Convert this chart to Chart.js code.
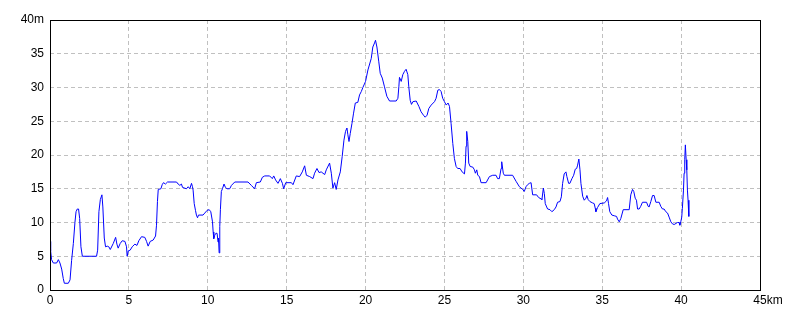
<!DOCTYPE html>
<html>
<head>
<meta charset="utf-8">
<script src="https://cdn.jsdelivr.net/npm/chart.js@4/dist/chart.umd.min.js"></script>
<style>
    body { margin: 0; background: #ffffff; }
    #grafico { display: block; }
</style>
</head>
<body>
<canvas id="grafico" width="800" height="320"></canvas>
<script>
const distKm = [
    0, 0.04, 0.1, 0.21, 0.42, 0.53, 0.63, 0.74, 0.84, 0.91, 1.16, 1.27, 1.37, 1.48, 1.58, 1.65, 1.73, 1.81, 1.88, 1.96,
    2.05, 2.95, 3.02, 3.1, 3.19, 3.29, 3.35, 3.44, 3.52, 3.63, 3.73, 3.82, 4.01, 4.16, 4.24, 4.32, 4.45, 4.58, 4.75, 4.85,
    4.89, 4.96, 5.08, 5.21, 5.38, 5.51, 5.63, 5.8, 6.01, 6.12, 6.22, 6.35, 6.54, 6.69, 6.75, 6.81, 6.86, 7.03, 7.11, 7.19,
    7.32, 7.45, 8.02, 8.12, 8.23, 8.33, 8.4, 8.65, 8.76, 8.86, 8.97, 9.03, 9.07, 9.14, 9.22, 9.28, 9.35, 9.41, 9.7, 9.81,
    9.96, 10.09, 10.19, 10.3, 10.34, 10.38, 10.44, 10.51, 10.59, 10.65, 10.68, 10.72, 10.76, 10.8, 10.86, 10.93, 11.03, 11.12, 11.22, 11.39,
    11.5, 11.71, 12.55, 12.76, 12.97, 13.08, 13.33, 13.46, 13.61, 13.92, 14.09, 14.18, 14.3, 14.45, 14.6, 14.73, 14.81, 14.94, 15.3, 15.4,
    15.61, 15.82, 15.99, 16.14, 16.25, 16.46, 16.67, 16.77, 16.92, 17.05, 17.19, 17.41, 17.51, 17.72, 17.83, 17.93, 18.04, 18.14, 18.25, 18.4,
    18.52, 18.63, 18.73, 18.82, 18.88, 18.95, 19.03, 19.14, 19.24, 19.35, 19.51, 19.62, 19.73, 19.83, 20.0, 20.15, 20.36, 20.46, 20.57, 20.63,
    20.72, 20.84, 20.93, 21.06, 21.2, 21.35, 21.52, 21.94, 22.05, 22.11, 22.15, 22.26, 22.36, 22.47, 22.57, 22.68, 22.74, 22.83, 22.91, 23.0,
    23.21, 23.38, 23.52, 23.67, 23.78, 23.9, 24.01, 24.16, 24.37, 24.47, 24.58, 24.68, 24.79, 24.89, 25.0, 25.11, 25.23, 25.32, 25.42, 25.53,
    25.63, 25.74, 25.84, 25.99, 26.12, 26.27, 26.33, 26.37, 26.41, 26.48, 26.54, 26.63, 26.8, 26.9, 26.96, 27.05, 27.11, 27.22, 27.32, 27.64,
    27.85, 28.06, 28.27, 28.37, 28.48, 28.59, 28.63, 28.73, 28.8, 29.32, 29.54, 29.75, 29.96, 30.06, 30.17, 30.27, 30.38, 30.49, 30.59, 30.84,
    30.97, 31.12, 31.18, 31.27, 31.33, 31.39, 31.48, 31.54, 31.69, 31.81, 31.96, 32.07, 32.17, 32.32, 32.41, 32.49, 32.59, 32.7, 32.76, 32.87,
    32.95, 33.08, 33.19, 33.29, 33.38, 33.44, 33.52, 33.59, 33.65, 33.76, 33.86, 33.97, 34.03, 34.11, 34.22, 34.39, 34.49, 34.56, 34.6, 34.7,
    34.85, 35.13, 35.27, 35.34, 35.4, 35.48, 35.61, 35.76, 35.91, 35.97, 36.08, 36.18, 36.33, 36.71, 36.81, 36.92, 37.0, 37.09, 37.17, 37.24,
    37.34, 37.44, 37.55, 37.81, 37.91, 37.97, 38.08, 38.19, 38.29, 38.4, 38.61, 38.71, 38.82, 38.92, 39.03, 39.14, 39.24, 39.35, 39.45, 39.56,
    39.77, 39.87, 39.92, 39.98, 40.04, 40.08, 40.15, 40.19, 40.23, 40.27, 40.32, 40.36, 40.4, 40.44, 40.49
];
const quotaM = [
    7.2, 5.8, 4.5, 4.0, 4.0, 4.5, 4.0, 3.1, 1.7, 1.0, 1.0, 1.5, 4.4, 6.9, 10.0, 11.6, 12.0, 12.0, 10.6, 6.4,
    5.0, 5.0, 5.9, 11.6, 13.4, 14.1, 12.3, 7.7, 6.4, 6.5, 6.4, 6.0, 6.9, 7.8, 6.8, 6.2, 6.9, 7.3, 7.2, 6.4,
    5.0, 5.8, 5.9, 6.4, 6.8, 6.6, 7.3, 7.9, 7.8, 7.2, 6.5, 7.2, 7.4, 8.0, 9.6, 13.1, 14.9, 15.0, 15.6, 15.9,
    15.7, 16.0, 16.0, 15.7, 15.5, 15.7, 15.2, 15.0, 15.3, 15.0, 15.8, 15.3, 14.8, 12.8, 11.8, 11.1, 10.7, 11.1, 11.1, 11.4,
    11.8, 11.9, 11.6, 10.1, 8.6, 7.6, 8.1, 8.4, 8.4, 7.1, 7.7, 5.5, 9.4, 11.9, 14.6, 15.0, 15.7, 15.2, 15.0, 15.0,
    15.5, 16.0, 16.0, 15.5, 15.0, 15.9, 16.0, 16.7, 16.9, 16.9, 16.5, 16.9, 16.3, 15.8, 16.5, 15.8, 15.0, 15.9, 15.9, 15.6,
    16.9, 16.8, 17.5, 18.4, 17.0, 16.8, 16.5, 17.3, 18.0, 17.4, 17.5, 17.1, 17.8, 18.8, 17.3, 15.1, 15.9, 14.9, 16.3, 17.5,
    19.8, 22.2, 23.5, 24.0, 23.0, 22.0, 23.2, 24.7, 26.2, 27.7, 27.8, 28.9, 29.4, 30.0, 30.9, 32.6, 34.3, 36.0, 36.6, 37.0,
    36.0, 33.8, 32.1, 31.4, 30.1, 28.7, 28.0, 28.0, 28.4, 30.1, 31.5, 30.9, 31.9, 32.4, 32.7, 31.9, 30.1, 28.1, 27.5, 27.9,
    28.0, 27.2, 26.4, 25.9, 25.6, 25.9, 26.9, 27.4, 27.9, 28.4, 29.6, 29.7, 29.4, 28.4, 27.9, 27.4, 27.7, 27.2, 24.7, 21.7,
    19.5, 18.3, 18.0, 18.0, 17.5, 17.2, 18.8, 21.3, 23.5, 22.0, 18.8, 18.3, 18.2, 17.8, 17.3, 17.8, 17.0, 16.8, 15.9, 15.9,
    16.8, 17.0, 17.0, 16.5, 16.5, 18.0, 19.0, 17.3, 17.0, 17.0, 16.1, 15.3, 14.9, 14.6, 15.3, 15.6, 15.8, 15.9, 14.1, 14.1,
    13.7, 13.5, 13.4, 15.1, 14.3, 12.8, 12.3, 12.0, 11.9, 11.6, 11.9, 12.3, 13.0, 13.1, 13.8, 15.8, 17.2, 17.5, 16.8, 15.8,
    15.8, 16.5, 17.0, 17.9, 18.0, 18.5, 19.4, 17.8, 15.8, 13.9, 13.3, 13.6, 14.0, 13.4, 13.1, 12.9, 12.8, 12.1, 11.6, 12.2,
    12.8, 12.9, 13.2, 13.7, 12.8, 11.6, 11.1, 11.0, 10.9, 10.5, 10.1, 10.6, 11.9, 11.9, 14.1, 14.9, 14.6, 13.6, 13.3, 12.0,
    12.0, 12.4, 13.0, 13.0, 12.4, 12.3, 13.1, 14.0, 14.0, 13.0, 13.0, 12.4, 12.0, 12.0, 11.6, 11.4, 10.8, 10.1, 9.8, 9.7,
    10.0, 10.0, 9.6, 10.1, 10.8, 12.1, 14.8, 17.3, 19.3, 21.5, 19.3, 17.8, 14.8, 13.3, 10.9
];
// tacche degli assi
const tickKm = [0, 5, 10, 15, 20, 25, 30, 35, 40, 45];
const tickM = [0, 5, 10, 15, 20, 25, 30, 35, 40];

const font = { family: "'Liberation Sans Narrow', 'Liberation Sans', Arial, sans-serif", size: 12 };

// cornice nera attorno all'area del grafico + unità "km"
const cornice = {
    id: 'cornice',
    afterDraw(chart) {
        const ctx = chart.ctx;
        const a = chart.chartArea;
        ctx.save();
        ctx.strokeStyle = '#000000';
        ctx.lineWidth = 1;
        ctx.strokeRect(Math.round(a.left) + 0.5, Math.round(a.top) + 0.5,
            Math.round(a.right - a.left), Math.round(a.bottom - a.top));
        // "km" dopo l'ultima etichetta
        const sx = chart.scales.x;
        const xUlt = sx.getPixelForValue(tickKm[tickKm.length - 1]);
        ctx.font = font.size + 'px ' + font.family;
        const w = ctx.measureText(String(tickKm[tickKm.length - 1])).width;
        ctx.fillStyle = '#000000';
        ctx.textAlign = 'left';
        ctx.textBaseline = 'middle';
        ctx.fillText('km', xUlt + w / 2, a.bottom + 11);
        ctx.restore();
    }
};

const punti = distKm.map((d, i) => ({ x: d, y: quotaM[i] }));

const ctx = document.getElementById('grafico').getContext('2d');
const grafico = new Chart(ctx, {
    type: 'line',
    data: {
        datasets: [{
            label: 'quota',
            data: punti,
            borderColor: '#0000ff',
            borderWidth: 1,
            pointRadius: 0,
            fill: false,
            tension: 0
        }]
    },
    options: {
        responsive: false,
        animation: false,
        layout: { padding: { top: 20, right: 40, left: 0, bottom: 0 } },
        plugins: {
            legend: { display: false },
            tooltip: { enabled: false }
        },
        scales: {
            x: {
                type: 'linear',
                min: 0,
                max: 45,
                afterBuildTicks: (s) => { s.ticks = tickKm.map(v => ({ value: v })); },
                afterFit: (s) => { s.height = 30; },
                ticks: {
                    color: '#000000',
                    font: font,
                    padding: 3,
                    maxRotation: 0,
                    autoSkip: false
                },
                grid: {
                    color: '#c0c0c0',
                    drawTicks: false
                },
                border: { display: false, dash: [4, 3] }
            },
            y: {
                min: 0,
                max: 40,
                afterBuildTicks: (s) => { s.ticks = tickM.map(v => ({ value: v })); },
                afterFit: (s) => { s.width = 50; },
                ticks: {
                    color: '#000000',
                    font: font,
                    padding: 6,
                    callback: (v) => v === 40 ? '40m' : v
                },
                grid: {
                    color: '#c0c0c0',
                    drawTicks: false
                },
                border: { display: false, dash: [4, 3] }
            }
        }
    },
    plugins: [cornice]
});
</script>
</body>
</html>
